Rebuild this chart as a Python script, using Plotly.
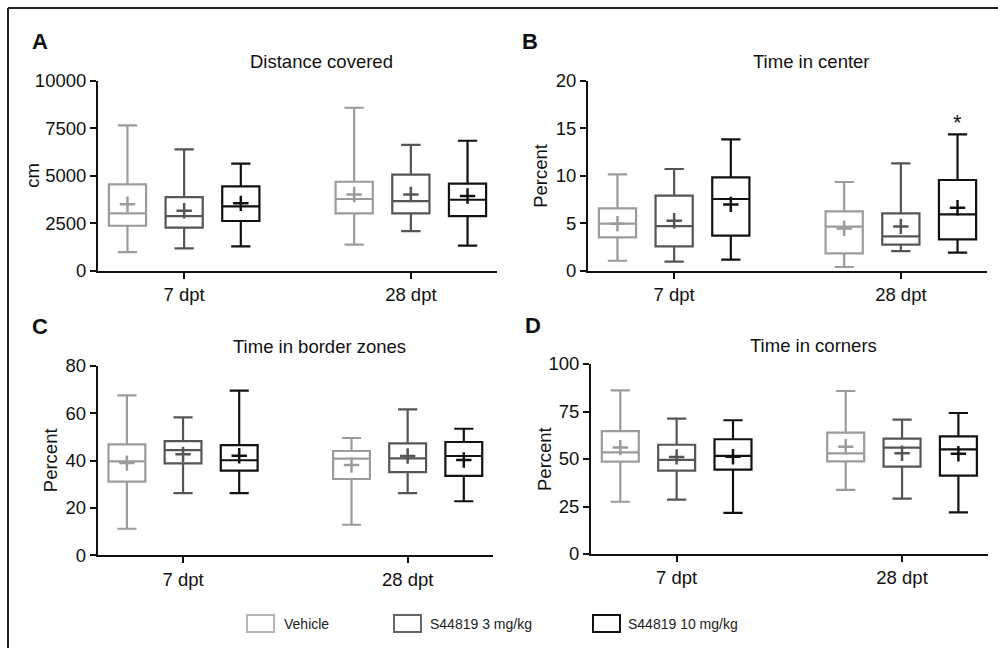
import plotly.graph_objects as go

# ---------------- data ----------------
categories = ["7 dpt", "28 dpt"]
groups = ["Vehicle", "S44819 3 mg/kg", "S44819 10 mg/kg"]

# Panel A: Distance covered (cm)  [7 dpt, 28 dpt]
A_low = {"Vehicle": [980, 1370], "S44819 3 mg/kg": [1180, 2090], "S44819 10 mg/kg": [1280, 1320]}
A_q1 = {"Vehicle": [2370, 3020], "S44819 3 mg/kg": [2270, 3020], "S44819 10 mg/kg": [2620, 2880]}
A_med = {"Vehicle": [3020, 3780], "S44819 3 mg/kg": [2880, 3670], "S44819 10 mg/kg": [3390, 3740]}
A_q3 = {"Vehicle": [4550, 4690], "S44819 3 mg/kg": [3880, 5060], "S44819 10 mg/kg": [4450, 4590]}
A_high = {"Vehicle": [7660, 8590], "S44819 3 mg/kg": [6400, 6630], "S44819 10 mg/kg": [5640, 6850]}
A_mean = {"Vehicle": [3500, 4020], "S44819 3 mg/kg": [3160, 4020], "S44819 10 mg/kg": [3550, 3940]}

# Panel B: Time in center (%)
B_low = {"Vehicle": [1.05, 0.39], "S44819 3 mg/kg": [0.95, 2.07], "S44819 10 mg/kg": [1.16, 1.90]}
B_q1 = {"Vehicle": [3.51, 1.83], "S44819 3 mg/kg": [2.57, 2.74], "S44819 10 mg/kg": [3.69, 3.30]}
B_med = {"Vehicle": [4.96, 4.64], "S44819 3 mg/kg": [4.71, 3.62], "S44819 10 mg/kg": [7.56, 5.94]}
B_q3 = {"Vehicle": [6.57, 6.26], "S44819 3 mg/kg": [7.91, 6.05], "S44819 10 mg/kg": [9.84, 9.56]}
B_high = {"Vehicle": [10.16, 9.35], "S44819 3 mg/kg": [10.72, 11.32], "S44819 10 mg/kg": [13.85, 14.38]}
B_mean = {"Vehicle": [4.95, 4.46], "S44819 3 mg/kg": [5.27, 4.67], "S44819 10 mg/kg": [6.99, 6.64]}

# Panel C: Time in border zones (%)
C_low = {"Vehicle": [11.2, 12.9], "S44819 3 mg/kg": [26.2, 26.2], "S44819 10 mg/kg": [26.2, 22.8]}
C_q1 = {"Vehicle": [31.1, 32.2], "S44819 3 mg/kg": [38.8, 35.1], "S44819 10 mg/kg": [35.7, 33.5]}
C_med = {"Vehicle": [39.6, 40.8], "S44819 3 mg/kg": [44.4, 40.9], "S44819 10 mg/kg": [40.1, 41.9]}
C_q3 = {"Vehicle": [46.8, 44.0], "S44819 3 mg/kg": [48.2, 47.2], "S44819 10 mg/kg": [46.5, 47.8]}
C_high = {"Vehicle": [67.5, 49.5], "S44819 3 mg/kg": [58.2, 61.6], "S44819 10 mg/kg": [69.5, 53.4]}
C_mean = {"Vehicle": [38.9, 38.1], "S44819 3 mg/kg": [42.6, 41.9], "S44819 10 mg/kg": [42.0, 40.2]}

# Panel D: Time in corners (%)
D_low = {"Vehicle": [27.5, 33.7], "S44819 3 mg/kg": [28.6, 29.1], "S44819 10 mg/kg": [21.6, 21.9]}
D_q1 = {"Vehicle": [48.6, 48.8], "S44819 3 mg/kg": [43.9, 46.0], "S44819 10 mg/kg": [44.4, 41.2]}
D_med = {"Vehicle": [53.5, 53.0], "S44819 3 mg/kg": [49.5, 56.0], "S44819 10 mg/kg": [51.6, 55.1]}
D_q3 = {"Vehicle": [64.7, 63.9], "S44819 3 mg/kg": [57.5, 60.7], "S44819 10 mg/kg": [60.4, 61.9]}
D_high = {"Vehicle": [86.1, 85.8], "S44819 3 mg/kg": [71.2, 70.7], "S44819 10 mg/kg": [70.4, 74.2]}
D_mean = {"Vehicle": [56.0, 56.5], "S44819 3 mg/kg": [51.1, 53.0], "S44819 10 mg/kg": [51.2, 52.8]}

titles = ["Distance covered", "Time in center", "Time in border zones", "Time in corners"]
y_titles = ["cm", "Percent", "Percent", "Percent"]
letters = ["A", "B", "C", "D"]
y_ticks = [[0, 2500, 5000, 7500, 10000], [0, 5, 10, 15, 20], [0, 20, 40, 60, 80], [0, 25, 50, 75, 100]]
y_ticktext = [["0", "2500", "5000", "7500", "10000"], ["0", "5", "10", "15", "20"],
              ["0", "20", "40", "60", "80"], ["0", "25", "50", "75", "100"]]
y_max = [10000, 20, 80, 100]
star_value = 15.6  # significance marker, panel B, 28 dpt, 10 mg/kg

# ---------------- style ----------------
W, H = 998, 648
colors = {"Vehicle": "#9b9b9b", "S44819 3 mg/kg": "#555555", "S44819 10 mg/kg": "#111111"}
offsets = {"Vehicle": -0.25, "S44819 3 mg/kg": 0.0, "S44819 10 mg/kg": 0.25}
FONT = "Liberation Sans, Arial, sans-serif"
FS = 18.5

# panel pixel boxes: (x0, x1, ytop, ybottom)
panels_px = [(98, 497, 81, 270.7), (588, 987, 81, 270.7), (97.7, 493, 365.7, 555.3), (591, 987.7, 364, 554)]

def fx(px):
    return px / W

def fy(py):
    return 1 - py / H

fig = go.Figure()
datasets = [
    (A_low, A_q1, A_med, A_q3, A_high, A_mean),
    (B_low, B_q1, B_med, B_q3, B_high, B_mean),
    (C_low, C_q1, C_med, C_q3, C_high, C_mean),
    (D_low, D_q1, D_med, D_q3, D_high, D_mean),
]

cat_pos = list(range(len(categories)))
for i, (lo, q1, med, q3, hi, mn) in enumerate(datasets):
    xa = "x" if i == 0 else f"x{i+1}"
    ya = "y" if i == 0 else f"y{i+1}"
    for g in groups:
        xs = [c + offsets[g] for c in cat_pos]
        fig.add_trace(go.Box(
            x=xs, q1=q1[g], median=med[g], q3=q3[g],
            lowerfence=lo[g], upperfence=hi[g],
            width=0.164, whiskerwidth=0.52,
            line=dict(color=colors[g], width=2.2),
            fillcolor="white", boxpoints=False,
            xaxis=xa, yaxis=ya, showlegend=False, hoverinfo="skip", name=g,
        ))
        fig.add_trace(go.Scatter(
            x=xs, y=mn[g], mode="markers",
            marker=dict(symbol="cross-thin", size=11, line=dict(color=colors[g], width=2.5)),
            xaxis=xa, yaxis=ya, showlegend=False, hoverinfo="skip",
        ))

layout = dict(
    width=W, height=H, margin=dict(l=0, r=0, t=0, b=0, autoexpand=False),
    paper_bgcolor="white", plot_bgcolor="white",
    font=dict(family=FONT, size=FS, color="#111"),
    showlegend=False,
)
annotations = []
shapes = []
for i, (x0, x1, yt, yb) in enumerate(panels_px):
    xk = "xaxis" if i == 0 else f"xaxis{i+1}"
    yk = "yaxis" if i == 0 else f"yaxis{i+1}"
    ya = "y" if i == 0 else f"y{i+1}"
    xa = "x" if i == 0 else f"x{i+1}"
    layout[xk] = dict(
        domain=[fx(x0), fx(x1)], range=[-0.38, 1.38], anchor=ya,
        tickvals=cat_pos, ticktext=categories,
        showline=True, linecolor="#111", linewidth=2, ticks="outside", ticklen=6, tickwidth=2,
        tickcolor="#111", showgrid=False, zeroline=False, tickfont=dict(size=FS),
    )
    layout[yk] = dict(
        domain=[fy(yb), fy(yt)], range=[0, y_max[i]], anchor=xa,
        tickvals=y_ticks[i], ticktext=y_ticktext[i], showline=True, linecolor="#111", linewidth=2,
        ticks="outside", ticklen=6, tickwidth=2, tickcolor="#111",
        showgrid=False, zeroline=False, tickfont=dict(size=FS),
    )
    # title
    annotations.append(dict(text=titles[i], x=fx(x0 + (x1 - x0) * 0.56), y=fy(yt - 19),
                            xref="paper", yref="paper", showarrow=False,
                            font=dict(size=FS), xanchor="center", yanchor="middle"))
    # letter
    annotations.append(dict(text=f"<b>{letters[i]}</b>", x=fx(x0 - 58), y=fy(yt - 39),
                            xref="paper", yref="paper", showarrow=False,
                            font=dict(size=22, color="#111"), xanchor="center", yanchor="middle"))
    # y title
    annotations.append(dict(text=y_titles[i], x=fx(x0 - (65 if i == 0 else 47)), y=fy((yt + yb) / 2),
                            xref="paper", yref="paper", showarrow=False, textangle=-90,
                            font=dict(size=FS), xanchor="center", yanchor="middle"))

# significance star (panel B)
annotations.append(dict(text="*", x=1.25, y=star_value, xref="x2", yref="y2", showarrow=False,
                        font=dict(size=22, color="#111"), xanchor="center", yanchor="middle"))

# outer frame (top and left edges visible)
shapes.append(dict(type="line", xref="paper", yref="paper", x0=fx(8), x1=1.0, y0=fy(8), y1=fy(8),
                   line=dict(color="#222", width=2)))
shapes.append(dict(type="line", xref="paper", yref="paper", x0=fx(8), x1=fx(8), y0=fy(8), y1=0.0,
                   line=dict(color="#222", width=2)))

# legend drawn manually
legend_boxes = [(247, 274, 282), (394, 421, 428), (593, 620, 626)]
legend_colors = ["#b5b5b5", "#666666", "#111111"]
for (bx0, bx1, tx), g, lc in zip(legend_boxes, groups, legend_colors):
    shapes.append(dict(type="rect", xref="paper", yref="paper", x0=fx(bx0), x1=fx(bx1),
                       y0=fy(632), y1=fy(615), line=dict(color=lc, width=2), fillcolor="white"))
    annotations.append(dict(text=g, x=fx(tx), y=fy(623.5), xref="paper", yref="paper",
                            showarrow=False, xanchor="left", yanchor="middle",
                            font=dict(size=14, color="#222")))

layout["annotations"] = annotations
layout["shapes"] = shapes
fig.update_layout(**layout)
fig.write_html(
    "out.html",
    config={"displayModeBar": False},
    post_script=(
        "document.body.style.margin='0';document.body.style.padding='0';"
        "document.body.style.overflow='hidden';document.documentElement.style.overflow='hidden';"
    ),
)
